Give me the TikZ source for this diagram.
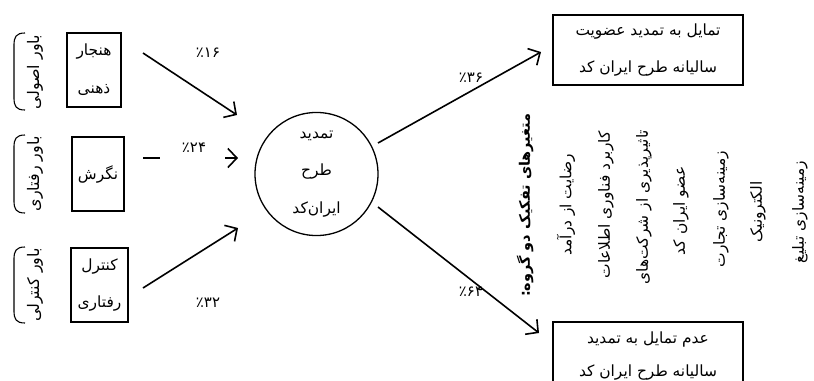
\documentclass[tikz,border=0pt]{standalone}
\usepackage{fontspec}
\usetikzlibrary{arrows.meta,shapes.geometric}
\TeXXeTstate=1
\newfontfamily\arabicfont[Script=Arabic]{DejaVu Sans}
\newfontfamily\numfont{DejaVu Sans}
\begin{document}
\begin{tikzpicture}[x=1bp,y=-1bp,
  fa/.style={font=\arabicfont\fontsize{15.5}{38}\selectfont},
  rbox/.style={draw,line width=1.3bp,inner sep=0pt,fa,align=center},
  vtext/.style={fa,rotate=90,inner sep=0pt},
  btext/.style={font=\arabicfont\fontsize{16}{20}\selectfont,rotate=90,inner sep=0pt},
  vbold/.style={font=\arabicfont\bfseries\fontsize{14.5}{38}\selectfont,rotate=90,inner sep=0pt},
  pct/.style={font=\numfont\fontsize{15}{17}\selectfont,inner sep=0pt},
  brace/.style={line width=1.1bp},
  arr/.style={line width=1.6bp,-{Straight Barb[length=9bp,width=19bp,line width=1.6bp]}}]
\useasboundingbox (0,0) rectangle (814,380);
% left boxes
\node[rbox,minimum width=54bp,minimum height=74bp] (b1) at (94,70) {\beginR هنجار\endR\\\beginR ذهنی\endR};
\node[rbox,minimum width=52bp,minimum height=74bp] (b2) at (98,174) {\beginR نگرش\endR};
\node[rbox,minimum width=57bp,minimum height=74bp] (b3) at (99.5,285) {\beginR کنترل\endR\\\beginR رفتاری\endR};
% braces
\draw[brace] (25,33) .. controls (16,33) and (14,37) .. (14,45) -- (14,98) .. controls (14,106) and (16,110) .. (25,110);
\draw[brace] (25,135) .. controls (16,135) and (14,139) .. (14,147) -- (14,201) .. controls (14,209) and (16,213) .. (25,213);
\draw[brace] (25,247) .. controls (16,247) and (14,251) .. (14,259) -- (14,311) .. controls (14,319) and (16,323) .. (25,323);
\node[btext] (l1) at (35,72) {\beginR باور اصولی\endR};
\node[btext] (l2) at (35,174) {\beginR باور رفتاری\endR};
\node[btext] (l3) at (35,285) {\beginR باور کنترلی\endR};
% circle
\node[ellipse,draw,line width=1.3bp,minimum width=123bp,minimum height=118bp,inner sep=0pt,fa,align=center] (c) at (316.5,174)
  {\beginR تمدید\endR\\\beginR طرح\endR\\\beginR ایران^^^^200cکد\endR};
% coordinates for arrows
\coordinate (s1) at (143,53);
\coordinate (e1) at (237,115);
\coordinate (s2) at (143,158);
\coordinate (e2) at (238,158);
\coordinate (s3) at (143,288);
\coordinate (e3) at (238,228);
\coordinate (o1) at (378,143);
\coordinate (t1) at (541,52);
\coordinate (o2) at (378,207);
\coordinate (t2) at (539,333);
\draw[arr] (s1) -- (e1);
\draw[arr,dash pattern=on 17bp off 65bp on 20bp] (s2) -- (e2);
\draw[arr] (s3) -- (e3);
\draw[arr] (o1) -- (t1);
\draw[arr] (o2) -- (t2);
\node[pct] (p1) at (208,53) {٪۱۶};
\node[pct] (p2) at (194,148) {٪۲۴};
\node[pct] (p3) at (208,303) {٪۳۲};
\node[pct] (p4) at (471,78) {٪۳۶};
\node[pct] (p5) at (471,292) {٪۶۴};
% right boxes
\node[rbox,minimum width=190bp,minimum height=70bp] (r1) at (648,50) {\beginR تمایل به تمدید عضویت\endR\\\beginR سالیانه طرح ایران کد\endR};
\node[rbox,minimum width=190bp,minimum height=68bp,font=\arabicfont\fontsize{15.5}{33}\selectfont] (r2) at (648,356) {\beginR عدم تمایل به تمدید\endR\\\beginR سالیانه طرح ایران کد\endR};
% right column
\node[vbold] (v0) at (525,205) {\beginR متغیرهای تفکیک دو گروه\kern0pt:\endR};
\node[vtext] (v1) at (566,205) {\beginR رضایت از درآمد\endR};
\node[vtext] (v2) at (606,205) {\beginR کاربرد فناوری اطلاعات\endR};
\node[vtext] (v3) at (644,207) {\beginR تاثیرپذیری از شرکت^^^^200cهای\endR};
\node[vtext] (v4) at (681,211) {\beginR عضو ایران کد\endR};
\node[vtext] (v5) at (721,209) {\beginR زمینه^^^^200cسازی تجارت\endR};
\node[vtext] (v6) at (758,212) {\beginR الکترونیک\endR};
\node[vtext] (v7) at (800,212) {\beginR زمینه^^^^200cسازی تبلیغ\endR};
\end{tikzpicture}
\end{document}
